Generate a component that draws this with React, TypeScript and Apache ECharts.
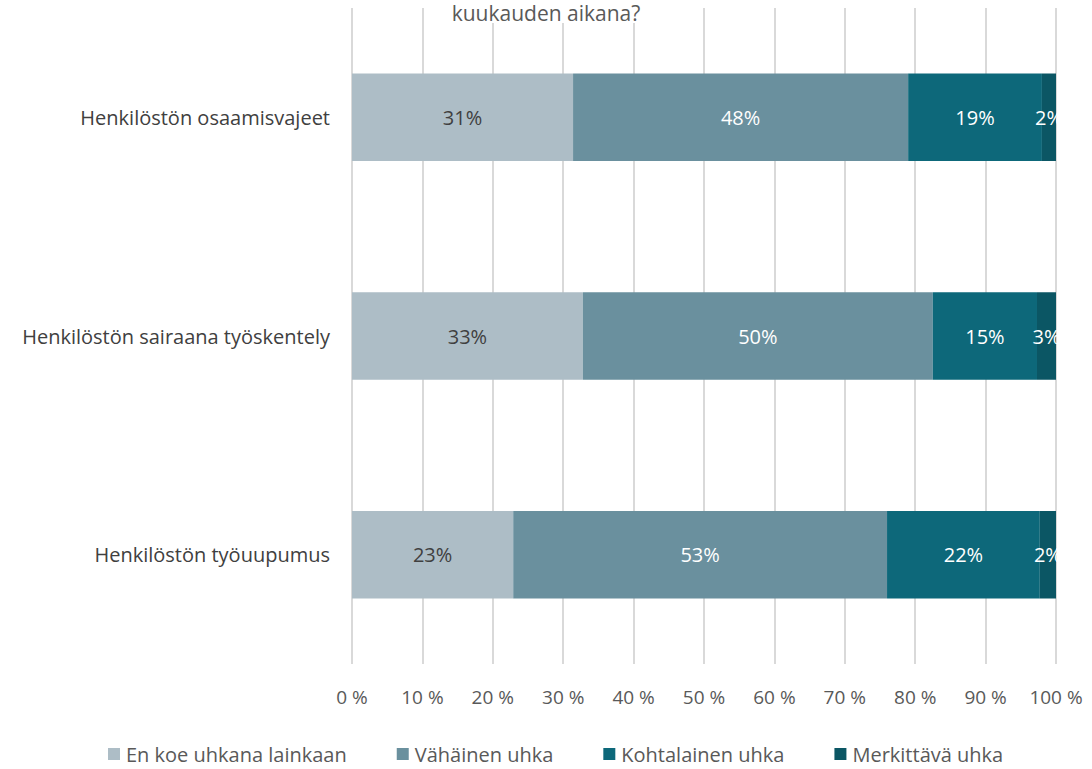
import React, { useEffect, useRef } from "react";
import * as echarts from "echarts";

const categories = [
  "Henkilöstön osaamisvajeet",
  "Henkilöstön sairaana työskentely",
  "Henkilöstön työuupumus",
];
const seriesNames = [
  "En koe uhkana lainkaan",
  "Vähäinen uhka",
  "Kohtalainen uhka",
  "Merkittävä uhka",
];
const enKoe = [31.4, 32.8, 22.9];
const vahainen = [47.6, 49.7, 53.1];
const kohtalainen = [19.0, 14.8, 21.7];
const merkittava = [2.0, 2.7, 2.3];
const xTicks = [0, 10, 20, 30, 40, 50, 60, 70, 80, 90, 100];
const titleText = "kuukauden aikana?";

const colors = ["#adbdc6", "#6a909e", "#0d687a", "#0b5664"];
const labelColors = ["#404040", "#ffffff", "#ffffff", "#ffffff"];
const font = "'Open Sans', 'Noto Sans', sans-serif";

export default function App() {
  const ref = useRef<HTMLDivElement>(null);
  useEffect(() => {
    if (!ref.current) return;
    const chart = echarts.init(ref.current, null, { renderer: "svg" });
    const values = [enKoe, vahainen, kohtalainen, merkittava];
    chart.setOption({
      animation: false,
      textStyle: { fontFamily: font },
      graphic: [
        {
          type: "text",
          left: "center",
          top: 2,
          style: {
            text: titleText,
            fontSize: 21,
            fill: "#595959",
            fontFamily: font,
            backgroundColor: "#ffffff",
          },
          z: 10,
        },
      ],
      grid: { left: 352, right: 36, top: 8, bottom: 105, containLabel: false },
      xAxis: {
        type: "value",
        min: 0,
        max: 100,
        interval: 10,
        axisLine: { show: false },
        axisTick: { show: false },
        splitLine: { lineStyle: { color: "#d9d9d9", width: 2 } },
        axisLabel: {
          formatter: (v: number) => (xTicks.includes(v) ? `${v} %` : ""),
          fontSize: 19,
          color: "#595959",
          margin: 23,
          fontFamily: font,
        },
      },
      yAxis: {
        type: "category",
        data: categories,
        inverse: true,
        axisLine: { show: false },
        axisTick: { show: false },
        axisLabel: { fontSize: 20, color: "#404040", margin: 22, fontFamily: font },
      },
      legend: {
        bottom: 0,
        left: 103,
        itemWidth: 12,
        itemHeight: 12,
        itemGap: 50,
        icon: "rect",
        textStyle: { fontSize: 20, color: "#595959", fontFamily: font, padding: [0, 0, 0, 1] },
        data: seriesNames,
      },
      series: seriesNames.map((name, i) => ({
        name,
        type: "bar",
        stack: "total",
        barWidth: "40%",
        data: values[i],
        itemStyle: { color: colors[i] },
        label: {
          show: true,
          position: "inside",
          color: labelColors[i],
          fontSize: 20,
          fontFamily: font,
          formatter: (p: any) => `${Math.round(p.value)}%`,
        },
      })),
    });
    return () => chart.dispose();
  }, []);
  return (
    <div
      ref={ref}
      style={{ position: "absolute", left: 0, top: 0, width: 1092, height: 769 }}
    />
  );
}
